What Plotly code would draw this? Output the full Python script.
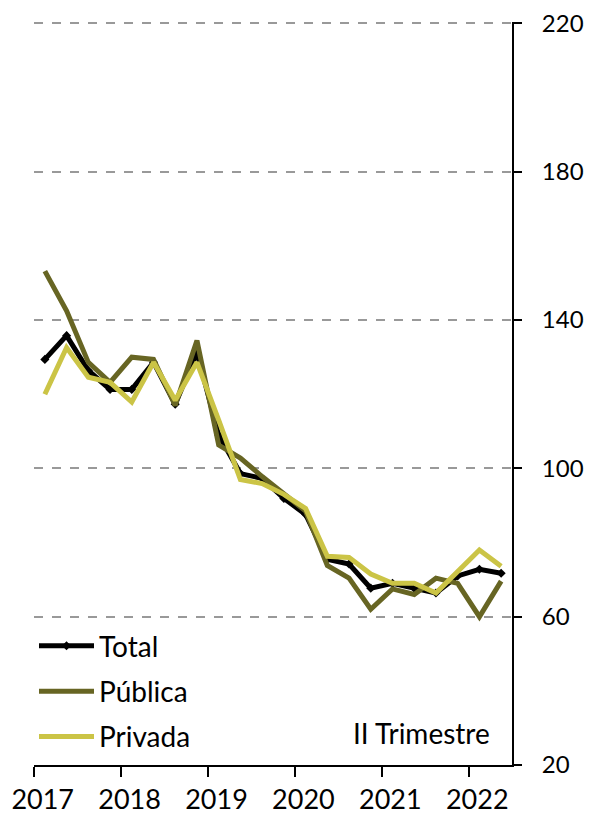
import plotly.graph_objects as go

# quarterly index, 2017-I to 2022-II
quarters = [2017 + (i + 0.5) / 4 for i in range(22)]

total = [129.4, 135.8, 126.4, 121.3, 121.3, 128.6, 117.3, 131.3, 109.0, 98.6, 97.3, 91.9,
         87.6, 75.5, 74.2, 67.7, 69.0, 67.7, 66.4, 71.0, 72.8, 71.7]
publica = [153.2, 142.5, 128.6, 123.2, 130.0, 129.4, 117.0, 134.5, 106.3, 102.8, 97.8, 93.0,
           88.5, 73.8, 70.4, 62.0, 67.5, 66.0, 70.4, 69.0, 60.0, 69.6]
privada = [120.0, 132.6, 124.6, 123.2, 117.9, 128.6, 118.4, 128.6, 113.0, 97.0, 95.9, 93.0,
           89.2, 76.3, 76.0, 71.5, 69.0, 69.0, 66.4, 72.3, 78.0, 73.6]

years = [2017, 2018, 2019, 2020, 2021, 2022]
y_ticks = [20, 60, 100, 140, 180, 220]

fig = go.Figure()
fig.add_trace(go.Scatter(x=quarters, y=total, name="Total", mode="lines+markers",
                         line=dict(color="#000000", width=5),
                         marker=dict(symbol="diamond", size=7, color="#000000"),
                         legendgroup="a"))
fig.add_trace(go.Scatter(x=quarters, y=publica, name="Pública", mode="lines",
                         line=dict(color="#676523", width=5), legendgroup="b"))
fig.add_trace(go.Scatter(x=quarters, y=privada, name="Privada", mode="lines",
                         line=dict(color="#cbc446", width=5), legendgroup="c"))

# page body has an 8px margin, so the plot box is offset accordingly
fig.update_layout(
    width=592, height=820,
    margin=dict(l=26, r=88, t=14, b=63),
    paper_bgcolor="white", plot_bgcolor="white",
    font=dict(family="Lato", size=28, color="black"),
    showlegend=True,
    legend=dict(x=0.0, xanchor="left", y=0.004, yanchor="bottom",
                bgcolor="rgba(0,0,0,0)", font=dict(size=28),
                tracegroupgap=6, itemwidth=55),
    annotations=[dict(x=0.958, y=0.043, xref="paper", yref="paper",
                      xanchor="right", yanchor="middle", showarrow=False,
                      text="II Trimestre", font=dict(size=28))],
)
# year labels sit a little right of the year tick marks, as in the source
fig.update_xaxes(
    range=[2017, 2022.5], tickvals=[y + 0.1 for y in years], ticktext=[str(y) for y in years],
    showgrid=False, showline=True, linecolor="black", linewidth=2,
    ticks="", zeroline=False, tickfont=dict(size=27), automargin=False,
    ticklabelstandoff=10, ticklabeloverflow="allow",
    minor=dict(tickvals=years, ticks="outside", ticklen=10, tickwidth=2,
               tickcolor="black", showgrid=False),
)
fig.update_yaxes(
    range=[20, 220.4], tickvals=y_ticks, side="right",
    showgrid=True, gridcolor="#999999", gridwidth=1.5, griddash="dash",
    showline=True, linecolor="black", linewidth=2,
    ticks="outside", ticklen=8, tickwidth=2, tickcolor="black",
    zeroline=False, tickfont=dict(size=24), automargin=False,
    ticklabelstandoff=15, ticklabeloverflow="allow",
)

fig.write_html("out.html")
